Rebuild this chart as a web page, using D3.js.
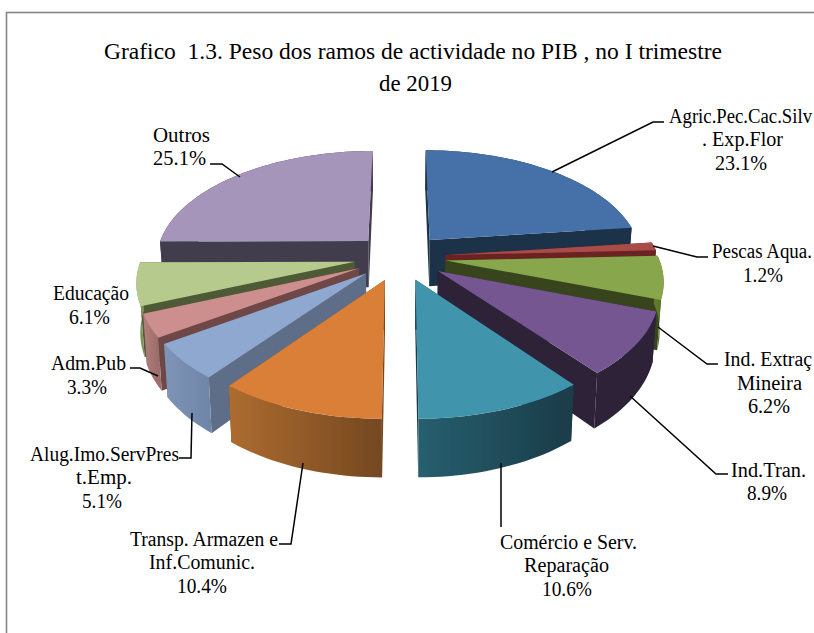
<!DOCTYPE html>
<html><head><meta charset="utf-8">
<script src="https://cdn.jsdelivr.net/npm/d3@7"></script>
<style>html,body{margin:0;padding:0;background:#fff;overflow:hidden}svg{display:block}text{font-family:"Liberation Serif",serif;fill:#000}</style>
</head><body><svg id="c" width="814" height="633"></svg>
<script>
// data
const categories=["Agric.Pec.Cac.Silv","Pescas Aqua.","Ind. Extraç","Ind.Tran.","Comércio e Serv.","Transp. Armazen e","Alug.Imo.ServPres","Adm.Pub","Educação","Outros"];
const values=[23.1,1.2,6.2,8.9,10.6,10.4,5.1,3.3,6.1,25.1];
const titleLines=["Grafico  1.3. Peso dos ramos de actividade no PIB , no I trimestre","de 2019"];
// styles
const topColors=["#4571a8","#a94b49","#88a64b","#745790","#3f95ad","#d97f38","#8fa8cf","#cc8f8d","#b6ca8d","#a695bb"];
const wallColors=["#1b3048","#6b2220","#39451f","#2d2239","#1b3b47","#744820","#5e6e88","#6f4746","#4d5a36","#423c4e"];
const rimFrom=["#1b3048","#6b2220","#5f7a2a","#2d2239","#265f6e","#ad6c30","#7f94b7","#b37f7d","#8fa36a","#423c4e"];
const rimTo=["#1b3048","#6b2220","#4f6a22","#2d2239","#1b3b47","#744820","#6f86a8","#9c6d6b","#7e925c","#423c4e"];
// label layout: each line is [text, start x, baseline, width]
const labelLayout=[
 [["Agric.Pec.Cac.Silv",669,123,143],[". Exp.Flor",702,146,81],["23.1%",715,170,52]],
 [["Pescas Aqua.",712,258,100],["1.2%",743,282,40]],
 [["Ind. Extraç",724,366,88],["Mineira",737,390,65],["6.2%",748,413,42]],
 [["Ind.Tran.",731,477,75],["8.9%",747,500,40]],
 [["Comércio e Serv.",500,549,137],["Reparação",524,572,85],["10.6%",542,596,50]],
 [["Transp. Armazen e",130,546,148],["Inf.Comunic.",149,569,106],["10.4%",177,593,50]],
 [["Alug.Imo.ServPres",30,461,149],["t.Emp.",76,484,56],["5.1%",82,508,40]],
 [["Adm.Pub",51,370,75],["3.3%",67,394,40]],
 [["Educação",53,300,76],["6.1%",69,324,41]],
 [["Outros",153,142,57],["25.1%",153,165,53]]
];
const leaders=[
 [[552,172],[653,122],[664,122]],
 [[653,246],[697,257],[708,257]],
 [[658,327],[707,364],[718,364]],
 [[630,396],[716,474],[728,474]],
 [[501,463],[501,527]],
 [[303,463],[291,544],[279,544]],
 [[192,413],[191,458],[179,458]],
 [[158,376],[140,368],[130,368]],
 [],
 [[240,177],[222,164],[210,164]]
];
// projection of the tilted disc
const cx=400,cy=257,A=229,B=117,P=.17,R=.93,E=.2,H=47.5;
function proj(u,v,low){const s=1/(1+P*v);const k=low?.985:1;
  return [cx+A*u*s*k, cy-B*v*s+(low?H*s:0)];}
const svg=d3.select("#c");
const defs=svg.append("defs");
defs.append("filter").attr("id","soft").append("feGaussianBlur").attr("stdDeviation",.5);
svg.append("rect").attr("x",6.5).attr("y",12.5).attr("width",830).attr("height",640).attr("fill","#fff").attr("stroke","#868686").attr("stroke-width",1.6);

const pie=d3.pie().value(d=>d).sort(null);
const arcs=pie(values).map((d,i)=>{
  const mid=(d.startAngle+d.endAngle)/2;
  const o=[E*Math.sin(mid),E*Math.cos(mid)];
  const pts=[];const n=Math.max(4,Math.ceil((d.endAngle-d.startAngle)/.03));
  d3.range(n+1).forEach(j=>{const t=d.startAngle+(d.endAngle-d.startAngle)*j/n;
    pts.push([o[0]+R*Math.sin(t),o[1]+R*Math.cos(t)]);});
  return {i,mid,o,pts};
});
const line=d3.line();
const order=arcs.slice().sort((a,b)=>Math.cos(b.mid)-Math.cos(a.mid));
const pieG=svg.append("g").attr("filter","url(#soft)");
order.forEach(a=>{
  const g=pieG.append("g");
  const apexT=proj(a.o[0],a.o[1]),apexB=proj(a.o[0],a.o[1],1);
  const top=a.pts.map(p=>proj(p[0],p[1])),bot=a.pts.map(p=>proj(p[0],p[1],1));
  const walls=[[apexT,top[0],bot[0],apexB],[apexT,top[top.length-1],bot[bot.length-1],apexB]];
  const xs=top.map(p=>p[0]);
  const id="rim"+a.i;
  const gr=defs.append("linearGradient").attr("id",id).attr("gradientUnits","userSpaceOnUse")
    .attr("x1",d3.min(xs)).attr("x2",d3.max(xs)).attr("y1",0).attr("y2",0);
  gr.append("stop").attr("offset",0).attr("stop-color",rimFrom[a.i]);
  gr.append("stop").attr("offset",1).attr("stop-color",rimTo[a.i]);
  walls.forEach(w=>g.append("path").attr("d",line(w)+"Z").attr("fill",wallColors[a.i]));
  g.append("path").attr("d",line(top.concat(bot.slice().reverse()))+"Z").attr("fill","url(#"+id+")");
  g.append("path").attr("d",line([apexT].concat(top))+"Z").attr("fill",topColors[a.i]);
});
// leaders
leaders.forEach(l=>{if(l.length)svg.append("path").attr("d",line(l)).attr("fill","none").attr("stroke","#000").attr("stroke-width",1.5);});
// title
titleLines.forEach((t,i)=>svg.append("text").attr("x",i?379:104).attr("y",i?91:59)
  .attr("font-size",24).attr("textLength",i?73:618).attr("lengthAdjust","spacingAndGlyphs").style("white-space","pre").text(t));
// labels
labelLayout.forEach(l=>{l.forEach(r=>svg.append("text").attr("x",r[1]).attr("y",r[2])
  .attr("font-size",20).attr("textLength",r[3]).attr("lengthAdjust","spacingAndGlyphs").text(r[0]));});
</script></body></html>
